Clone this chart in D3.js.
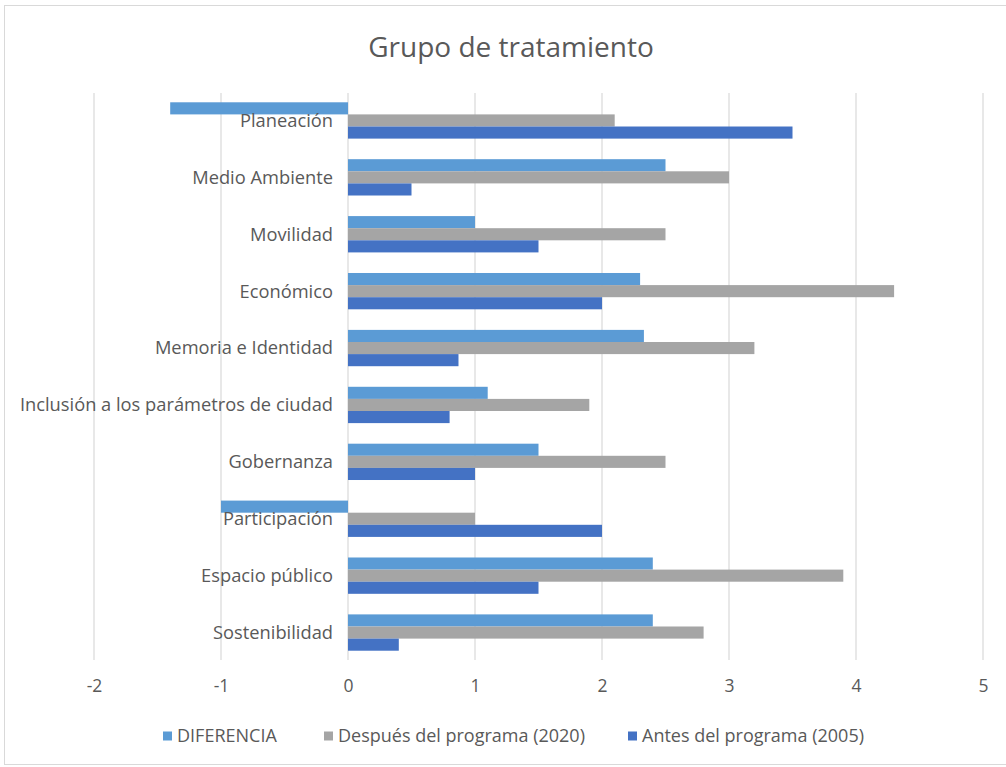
<!DOCTYPE html>
<html>
<head>
<meta charset="utf-8">
<script src="https://cdn.jsdelivr.net/npm/d3@7"></script>
<style>
  html, body { margin: 0; padding: 0; background: #fff; }
  svg { display: block; }
  text { font-family: "Open Sans", "Noto Sans", sans-serif; fill: #595959; }
</style>
</head>
<body>
<svg id="chart" width="1006" height="767"></svg>
<script>
// Categories, top to bottom
const categories = [
  "Planeación",
  "Medio Ambiente",
  "Movilidad",
  "Económico",
  "Memoria e Identidad",
  "Inclusión a los parámetros de ciudad",
  "Gobernanza",
  "Participación",
  "Espacio público",
  "Sostenibilidad"
];

// Series values, one per category
const diferencia = [-1.4, 2.5, 1.0, 2.3, 2.33, 1.1, 1.5, -1.0, 2.4, 2.4];
const despues2020 = [2.1, 3.0, 2.5, 4.3, 3.2, 1.9, 2.5, 1.0, 3.9, 2.8];
const antes2005 = [3.5, 0.5, 1.5, 2.0, 0.87, 0.8, 1.0, 2.0, 1.5, 0.4];

const seriesNames = ["DIFERENCIA", "Después del programa (2020)", "Antes del programa (2005)"];
const seriesColors = ["#5B9BD5", "#A5A5A5", "#4472C4"];
const xTicks = [-2, -1, 0, 1, 2, 3, 4, 5];

const series = [diferencia, despues2020, antes2005];

const svg = d3.select("#chart");

// Chart frame
svg.append("rect")
  .attr("x", 4.5).attr("y", 5.5)
  .attr("width", 1010).attr("height", 759)
  .attr("fill", "#fff").attr("stroke", "#d9d9d9");

// Title
svg.append("text")
  .attr("x", 511).attr("y", 57)
  .attr("text-anchor", "middle")
  .style("font-size", "28px")
  .text("Grupo de tratamiento");

const x = d3.scaleLinear().domain([-2, 5]).range([94, 983]);
const y = d3.scaleBand().domain(categories).range([92, 661]).paddingInner(0).paddingOuter(0);
const inner = d3.scaleBand().domain(d3.range(series.length))
  .range([0, y.bandwidth()]).paddingInner(0).paddingOuter(0.85);

// Vertical gridlines
svg.append("g")
  .selectAll("line")
  .data(xTicks)
  .join("line")
  .attr("x1", d => x(d)).attr("x2", d => x(d))
  .attr("y1", 93).attr("y2", 660)
  .attr("stroke", "#d9d9d9").attr("stroke-width", 1.2);

// Bars
const rows = [];
categories.forEach((c, i) => {
  series.forEach((s, j) => rows.push({ cat: c, s: j, v: s[i] }));
});
svg.append("g")
  .selectAll("rect")
  .data(rows)
  .join("rect")
  .attr("x", d => x(Math.min(0, d.v)))
  .attr("width", d => Math.abs(x(d.v) - x(0)))
  .attr("y", d => y(d.cat) + inner(d.s))
  .attr("height", inner.bandwidth())
  .attr("fill", d => seriesColors[d.s]);

// Category labels (drawn over the bars, as in the source chart)
svg.append("g")
  .selectAll("text")
  .data(categories)
  .join("text")
  .attr("x", x(0) - 15)
  .attr("y", d => y(d) + y.bandwidth() / 2)
  .attr("dy", "0.35em")
  .attr("text-anchor", "end")
  .style("font-size", "18.3px")
  .text(d => d);

// X axis tick labels
const xAxis = d3.axisBottom(x).tickValues(xTicks).tickFormat(d => String(d)).tickSize(0).tickPadding(0);
const gx = svg.append("g").attr("transform", "translate(0,680)").call(xAxis);
gx.select(".domain").remove();
gx.selectAll("text")
  .style("font-size", "17.5px")
  .style("font-family", "'Open Sans', sans-serif")
  .attr("fill", "#595959");

// Legend
const legendX = [163, 324, 628];
const lg = svg.append("g")
  .selectAll("g")
  .data(seriesNames)
  .join("g")
  .attr("transform", (d, i) => `translate(${legendX[i]},736)`);
lg.append("rect")
  .attr("x", 0).attr("y", -4.5).attr("width", 9).attr("height", 9)
  .attr("fill", (d, i) => seriesColors[i]);
lg.append("text")
  .attr("x", 14).attr("dy", "0.35em")
  .style("font-size", "18px")
  .text(d => d);
</script>
</body>
</html>
